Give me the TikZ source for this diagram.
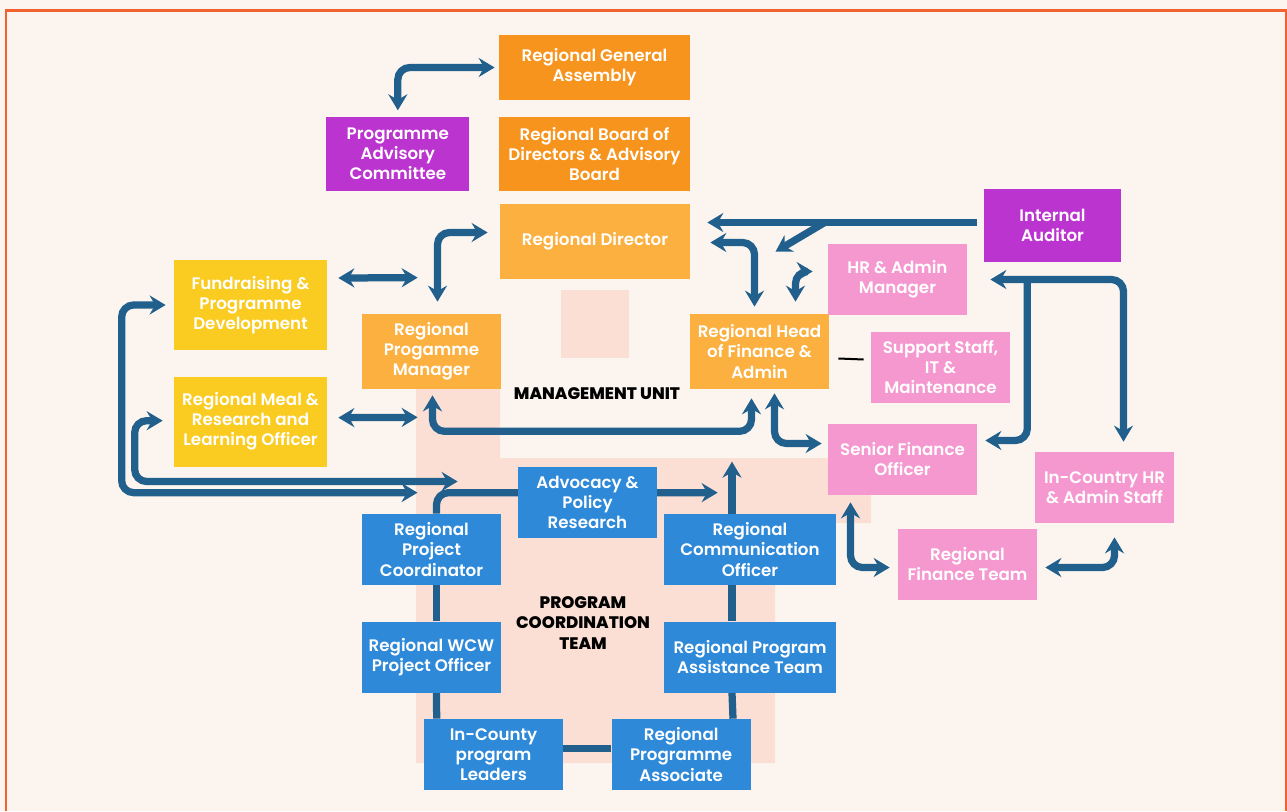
\documentclass[tikz,border=0pt]{standalone}
\usepackage{fontspec}
\setmainfont{Poppins}[BoldFont={* SemiBold}]
\newfontfamily\heavyfont{Poppins ExtraBold}
\usepackage{tikz}
\usetikzlibrary{arrows.meta, positioning, calc, backgrounds}
\definecolor{deeporange}{HTML}{F7941D}
\definecolor{softorange}{HTML}{FBB040}
\definecolor{sunyellow}{HTML}{FACC22}
\definecolor{auditpurple}{HTML}{BC34D0}
\definecolor{pinkbox}{HTML}{F598D0}
\definecolor{skyblue}{HTML}{2E89D9}
\definecolor{linkblue}{HTML}{215F8C}
\definecolor{paper}{HTML}{FCF5EF}
\definecolor{blush}{HTML}{FBDED4}
\definecolor{frameorange}{HTML}{F2622E}

\begin{document}
\begin{tikzpicture}[
    x=0.02cm, y=-0.02cm,
    every node/.style={font=\bfseries\fontsize{9.5}{11.4}\selectfont},
    unitbox/.style={rectangle, inner sep=0pt, align=center, text=white, minimum width=2.78cm, minimum height=1.42cm},
    link/.style={draw=linkblue, line width=1.45mm, rounded corners=2.4mm},
    arrow/.style={link, -{Stealth[length=3.2mm, width=3.8mm, inset=1.1mm]}},
    twoway/.style={link, {Stealth[length=3.2mm, width=3.8mm, inset=1.1mm]}-{Stealth[length=3.2mm, width=3.8mm, inset=1.1mm]}},
    teamlabel/.style={font=\heavyfont\fontsize{9.5}{11.6}\selectfont, align=center, text=black}
]
\useasboundingbox (0,0) rectangle (1287,811);

% Governance
\node[unitbox, fill=deeporange, minimum width=3.82cm, minimum height=1.3cm] (rga) at (594.5,67.5) {Regional General\\Assembly};
\node[unitbox, fill=deeporange, minimum width=3.82cm, minimum height=1.48cm, below=0.32cm of rga] (rbd) {Regional Board of\\Directors \& Advisory\\Board};
\node[unitbox, fill=auditpurple, minimum width=2.86cm, minimum height=1.48cm, left=0.58cm of rbd] (pac) {Programme\\Advisory\\Committee};
\node[unitbox, fill=softorange, minimum width=3.8cm, minimum height=1.5cm] (rd) at (595,241.5) {Regional Director};

% Management unit
\node[unitbox, fill=sunyellow, minimum width=3.06cm, minimum height=1.8cm] (fpd) at (250.5,305) {Fundraising \&\\Programme\\Development};
\node[unitbox, fill=sunyellow, minimum width=3.06cm, minimum height=1.8cm, below=0.52cm of fpd] (meal) {Regional Meal \&\\Research and\\Learning Officer};
\node[unitbox, fill=softorange, minimum height=1.5cm] (rpm) at (431.5,351.5) {Regional\\Progamme\\Manager};
\node[unitbox, fill=softorange, minimum height=1.5cm] (rhfa) at (759.5,351.5) {Regional Head\\of Finance \&\\Admin};
\node[unitbox, fill=pinkbox] (hr) at (897.5,279.5) {HR \& Admin\\Manager};
\node[unitbox, fill=pinkbox] (sup) at (940.5,367.5) {Support Staff,\\IT \&\\Maintenance};
\node[unitbox, fill=auditpurple, minimum width=2.74cm, minimum height=1.46cm] (ia) at (1052.5,225.5) {Internal\\Auditor};
\node[unitbox, fill=pinkbox, minimum width=2.98cm] (sfo) at (902.5,459.5) {Senior Finance\\Officer};
\node[unitbox, fill=pinkbox] (ichr) at (1104.5,487.5) {In-Country HR\\\& Admin Staff};
\node[unitbox, fill=pinkbox] (rft) at (967.5,564.5) {Regional\\Finance Team};
\node[teamlabel] (mgmt) at (597,394) {MANAGEMENT UNIT};

% Program coordination team
\node[unitbox, fill=skyblue] (adv) at (587.5,502.5) {Advocacy \&\\Policy\\Research};
\node[unitbox, fill=skyblue] (rpc) at (431.5,549.5) {Regional\\Project\\Coordinator};
\node[unitbox, fill=skyblue, minimum width=3.44cm] (rco) at (750,549.5) {Regional\\Communication\\Officer};
\node[unitbox, fill=skyblue, below=0.72cm of rpc] (wcw) {Regional WCW\\Project Officer};
\node[unitbox, fill=skyblue, minimum width=3.44cm, below=0.72cm of rco] (rpat) {Regional Program\\Assistance Team};
\node[unitbox, fill=skyblue] (icpl) at (493.5,754.5) {In-County\\program\\Leaders};
\node[unitbox, fill=skyblue, right=0.96cm of icpl] (rpa) {Regional\\Programme\\Associate};
\node[teamlabel] (pct) at (583,623) {PROGRAM\\COORDINATION\\TEAM};

\begin{scope}[on background layer]
    \fill[paper] (0,0) rectangle (1287,811);
    \fill[blush] (416,389) -- (500,389) -- (500,458) -- (871,458) -- (871,523) -- (775,523) -- (775,763) -- (416,763) -- cycle;
    \fill[blush] (561,290) rectangle (629,358);
    \draw[frameorange, line width=0.06cm] (6,811) -- (6,10.5) -- (1286,10.5) -- (1286,811);
    \draw[arrow] ($(rpc.north)+(5,0)$) |- ($(rco.north west)+(54,-21)$);
\end{scope}

% Governance links
\draw[twoway] ($(pac.north)+(0,-6)$) |- ($(rga.west)+(-4,0)$);
\draw[twoway] ($(rpm.north)+(6,-12)$) |- ($(rd.west)+(-12,-9)$);

% Left side
\draw[twoway] ($(fpd.east)+(11,-27)$) -- ($(rpm.north west)+(56,-36)$);
\draw[twoway] ($(meal.east)+(11,-4)$) -- ($(rpm.south west)+(56,28)$);
\draw[twoway] ($(fpd.west)+(-8,0)$) -- ++(-44,0) |- ($(rpc.north)+(-14,-21)$);
\draw[twoway] ($(meal.west)+(-11,-1)$) -- ++(-28,0) |- ($(adv.west)+(-60,-21)$);

% Finance and admin
\draw[twoway] ($(rpm.south)+(1,6)$) -- ++(0,36) -| ($(rhfa.south)+(-8,9)$);
\draw[twoway] ($(rhfa.south)+(15,4)$) |- ($(sfo.west)+(-6,-16)$);
\draw[twoway] ($(rd.east)+(20,1)$) -| ($(rhfa.north)+(-5,-7)$);
\draw[twoway] ($(rhfa.north)+(36,-12)$) |- ($(hr.west)+(-15,-8)$);
\draw[line width=0.04cm] ($(rhfa.east)+(9,7)$) -- ($(sup.west)+(-7,-8)$);

% Internal auditor
\coordinate (iasplit) at ($(ia.west)+(-159,-3)$);
\draw[arrow] ($(ia.west)+(-7,-3)$) -- ($(rd.east)+(17,-19)$);
\draw[arrow] (iasplit) -- ($(rhfa.north)+(16,-62)$);

% HR branch
\coordinate (hrsplit) at ($(hr.east)+(60,0)$);
\draw[twoway] ($(hr.east)+(23,0)$) -| ($(ichr.north)+(19,-10)$);
\draw[arrow] (hrsplit) |- ($(sfo.east)+(8,-19)$);
\draw[twoway] ($(sfo.south)+(-52,7)$) |- ($(rft.west)+(-8,3)$);
\draw[twoway] ($(rft.east)+(8,3)$) -| ($(ichr.south)+(10,14)$);

% Program links
\draw[arrow] ($(rco.north)+(-18,0)$) -- ($(rco.north)+(-18,-52)$);
\draw[link] ($(rpc.south)+(5,0)$) -- ($(wcw.north)+(5,0)$);
\draw[link] ($(wcw.south)+(5,0)$) -- ($(icpl.north west)+(13,0)$);
\draw[link] ($(rco.south)+(-18,0)$) -- ($(rpat.north)+(-18,0)$);
\draw[link] ($(rpat.south)+(-18,0)$) -- ($(rpa.north east)+(-18,0)$);
\draw[link] ($(icpl.east)+(0,-6)$) -- ($(rpa.west)+(0,-6)$);

\end{tikzpicture}
\end{document}
